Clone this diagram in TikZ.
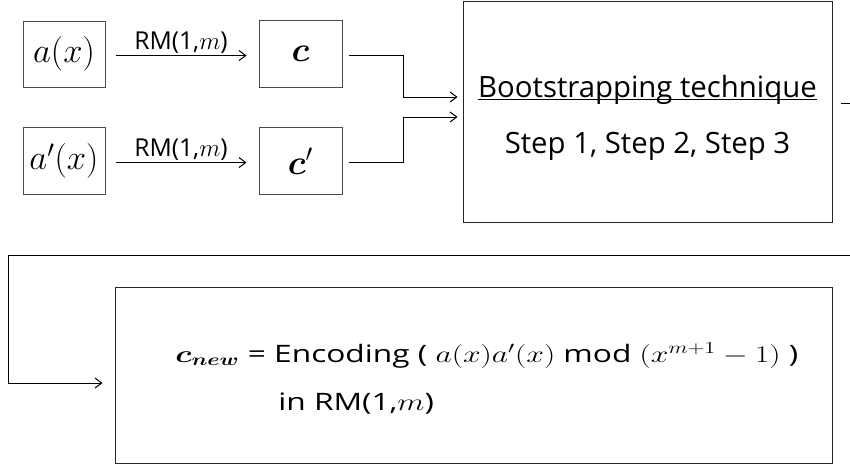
\RequirePackage{fix-cm}
\documentclass[tikz,border=0pt]{standalone}
\usepackage{amsmath}
\usepackage{bm}
\usepackage[no-math]{fontspec}
\setmainfont{Open Sans}
\usetikzlibrary{arrows.meta,calc}

\begin{document}
\begin{tikzpicture}[x=0.75pt,y=-0.75pt,
  box/.style={draw=black!70, line width=0.75pt, rectangle, inner sep=0pt},
  bigbox/.style={draw=black!85, line width=0.75pt, rectangle, inner sep=0pt},
  arr/.style={draw=black, line width=0.75pt, -{Straight Barb[length=5pt,width=7.5pt]}},
  lbl/.style={font=\fontsize{18.5}{22}\selectfont, inner sep=1pt},
  boxtxt/.style={font=\fontsize{26}{30}\selectfont},
  bigtxt/.style={font=\fontsize{22}{26}\selectfont, inner sep=0pt, anchor=base},
  enctxt/.style={font=\fontsize{18}{22}\selectfont, inner sep=0pt, anchor=base west,
                 xscale=1.32, transform shape}]
\clip (0,0) rectangle (850,468);

% input polynomials and their codewords
\node[box, boxtxt, minimum width=82*0.75pt, minimum height=66*0.75pt] (a) at (64,54) {$a(x)$};
\node[box, boxtxt, minimum width=82*0.75pt, minimum height=67*0.75pt] (a2) at (64,161) {$a'(x)$};
\node[box, boxtxt, minimum width=83*0.75pt, minimum height=67*0.75pt] (c) at (300.5,54) {$\bm{c}$};
\node[box, boxtxt, minimum width=83*0.75pt, minimum height=67*0.75pt] (c2) at (300.5,161) {$\bm{c}'$};

% bootstrapping block
\node[bigbox, minimum width=369*0.75pt, minimum height=221*0.75pt] (boot) at (647.5,111.5) {};
\node[bigtxt] (bt) at (647.5,97) {Bootstrapping technique};
\draw[line width=0.75pt] ($(bt.base west)+(0,2.5)$) -- ($(bt.base east)+(0,2.5)$);
\node[bigtxt] (steps) at (647.5,153) {Step 1, Step 2, Step 3};

% resulting codeword
\node[bigbox, minimum width=717*0.75pt, minimum height=176*0.75pt] (enc) at (473.5,375) {};
\node[enctxt] (enc1) at (175,362) {$\bm{c_{new}}$ = Encoding ( $a(x)a'(x)$ mod $(x^{m+1}-1)$ )};
\node[enctxt] (enc2) at (278,410) {in RM(1,$m$)};

% encoding arrows
\draw[arr] ($(a.east)+(10,1.5)$) -- node[above, lbl] {RM(1,$m$)} ($(c.west)+(-12,1.5)$);
\draw[arr] ($(a2.east)+(10,1.5)$) -- node[above, lbl] {RM(1,$m$)} ($(c2.west)+(-12,1.5)$);

% codewords into the bootstrapping block
\draw[arr] ($(c.east)+(6,1.5)$) -| ($(boot.west)+(-59,-14.5)$) -- ($(boot.west)+(-5,-14.5)$);
\draw[arr] ($(c2.east)+(6,1.5)$) -| ($(boot.west)+(-59,5.5)$) -- ($(boot.west)+(-5,5.5)$);

% feedback to the final encoding
\coordinate (turn) at (880,255);
\draw[arr] ($(boot.east)+(8,-8.5)$) -| (turn) -| ($(enc.west)+(-106,8)$) -- ($(enc.west)+(-12,8)$);
\end{tikzpicture}
\end{document}
